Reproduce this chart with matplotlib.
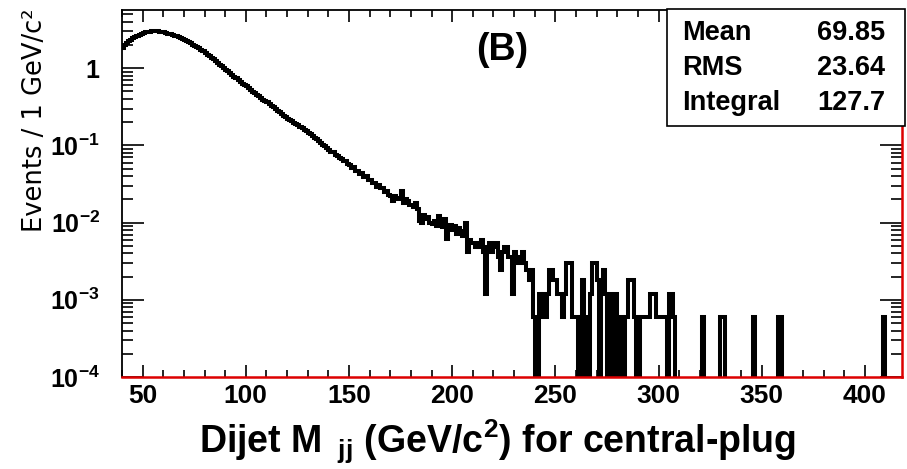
import numpy as np
import matplotlib.pyplot as plt
from matplotlib.patches import Rectangle
from matplotlib.ticker import FixedLocator, FixedFormatter, LogLocator, NullFormatter, MultipleLocator

plt.rcParams['font.family'] = 'Liberation Sans'
plt.rcParams['font.weight'] = 'bold'
plt.rcParams['mathtext.fontset'] = 'custom'
plt.rcParams['mathtext.rm'] = 'Liberation Sans:bold'
plt.rcParams['mathtext.it'] = 'Liberation Sans:bold'
plt.rcParams['mathtext.bf'] = 'Liberation Sans:bold'

# dijet mass histogram, 1 GeV bins from 40 to 418
x_lo, x_hi = 40, 418

smooth_vals = [
    1.85, 1.98, 2.10, 2.22, 2.33, 2.43, 2.53, 2.62, 2.70, 2.78,
    2.85, 2.90, 2.94, 2.97, 2.99, 3.00, 3.00, 2.99, 2.97, 2.94,
    2.90, 2.86, 2.81, 2.76, 2.71, 2.65, 2.59, 2.52, 2.46, 2.39,
    2.32, 2.25, 2.17, 2.10, 2.02, 1.95, 1.87, 1.80, 1.72, 1.65,
    1.57, 1.50, 1.43, 1.36, 1.30, 1.23, 1.17, 1.11, 1.06, 1.00,
    0.95, 0.91, 0.86, 0.82, 0.78, 0.74, 0.70, 0.66, 0.63, 0.60,
    0.58, 0.55, 0.52, 0.495, 0.47, 0.45, 0.43, 0.41, 0.39, 0.375,
    0.36, 0.345, 0.327, 0.312, 0.296, 0.282, 0.268, 0.255, 0.242, 0.230,
    0.221, 0.212, 0.204, 0.196, 0.189, 0.181, 0.174, 0.166, 0.160, 0.152,
    0.145, 0.139, 0.132, 0.126, 0.120, 0.113, 0.108, 0.102, 0.097, 0.092,
    0.088, 0.082, 0.081, 0.075, 0.073, 0.068, 0.067, 0.063, 0.062, 0.057,
    0.056, 0.051, 0.052, 0.047, 0.046, 0.043, 0.044, 0.039, 0.040, 0.036,
    0.036, 0.033, 0.033, 0.029, 0.031, 0.028, 0.028, 0.025, 0.026, 0.023,
    0.022, 0.019, 0.022, 0.020, 0.021, 0.026, 0.018, 0.020, 0.019, 0.017,
    0.017, 0.016, 0.018, 0.015, 0.0105, 0.0098, 0.0125, 0.0112, 0.0118, 0.0100,
    0.0095, 0.0105, 0.0090, 0.0123, 0.0098, 0.0088, 0.0110, 0.0062, 0.0085, 0.0093,
    0.0080, 0.0090, 0.0071, 0.0085, 0.0078, 0.0068, 0.0100, 0.0041, 0.0060, 0.0055,
]

# tail, bins 210..309, as number of weighted events
event_weight = 0.0006
tail_counts = [
    9, 8, 9, 8, 10, 7, 2, 8, 9, 7,
    8, 9, 6, 4, 7, 8, 8, 6, 6, 2,
    7, 6, 5, 5, 7, 5, 4, 3, 4, 1,
    0, 0, 2, 1, 2, 1, 2, 4, 4, 3,
    3, 2, 2, 1, 2, 5, 5, 5, 1, 1,
    1, 0, 1, 3, 0, 1, 0, 2, 5, 5,
    3, 0, 3, 4, 2, 0, 2, 0, 1, 2,
    0, 1, 1, 0, 1, 3, 3, 3, 1, 0,
    0, 1, 1, 1, 1, 1, 2, 2, 2, 1,
    1, 1, 1, 1, 0, 2, 2, 1, 0, 0,
]
# single events further out
lone_bins = [321, 330, 331, 346, 358, 359, 409]

stats_names = ['Mean', 'RMS', 'Integral']
stats_values = ['69.85', '23.64', '127.7']

y_ticks = [1e-4, 1e-3, 1e-2, 1e-1, 1]
y_ticklabels = [r'$10^{-4}$', r'$10^{-3}$', r'$10^{-2}$', r'$10^{-1}$', '1']

# build the histogram
edges = np.arange(x_lo, x_hi + 1)
hist = np.zeros(len(edges) - 1)
hist[:len(smooth_vals)] = smooth_vals
n0 = len(smooth_vals)
hist[n0:n0 + len(tail_counts)] = np.array(tail_counts) * event_weight
for b in lone_bins:
    hist[b - x_lo] = event_weight
draw = np.where(hist > 0, hist, 1e-9)  # empty bins drop off the bottom like ROOT

W, H = 907, 469
fig = plt.figure(figsize=(W / 100, H / 100), dpi=100)
ax = fig.add_axes([122 / W, 1 - 377 / H, 780 / W, 367 / H])

ax.stairs(draw, edges, color='black', linewidth=2.9, baseline=None)

ax.set_yscale('log')
ax.set_xlim(x_lo, x_hi)
ax.set_ylim(1e-4, 5.67)

ax.xaxis.set_major_locator(MultipleLocator(50))
ax.xaxis.set_minor_locator(MultipleLocator(10))
ax.yaxis.set_major_locator(FixedLocator(y_ticks))
ax.yaxis.set_major_formatter(FixedFormatter(y_ticklabels))
ax.yaxis.set_minor_locator(LogLocator(base=10, subs=np.arange(2, 10)))
ax.yaxis.set_minor_formatter(NullFormatter())

ax.tick_params(axis='x', which='major', direction='in', length=8.5, width=1.2,
               top=True, bottom=True, pad=5, labelsize=19)
ax.tick_params(axis='x', which='minor', direction='in', length=5, width=1.2,
               top=True, bottom=True)
ax.tick_params(axis='y', which='major', direction='in', length=16, width=1.2,
               left=True, right=True, pad=16, labelsize=18)
ax.tick_params(axis='y', which='minor', direction='in', length=8, width=1.2,
               left=True, right=True)

for s in ['left', 'top']:
    ax.spines[s].set_linewidth(1.3)
for s in ['bottom', 'right']:
    ax.spines[s].set_color('#dd0000')
    ax.spines[s].set_linewidth(1.8)

# axis titles
fig.text(35 / W, 1 - 9 / H, 'Events / 1 GeV/c²', rotation=90, ha='center', va='top',
         fontsize=18.5, family='DejaVu Sans', weight='normal')
fig.text(497 / W, 1 - 453 / H, r'Dijet M$_{\ \ jj}$ (GeV/c$^{2}$) for central-plug',
         ha='center', va='baseline', fontsize=27)

fig.text(502 / W, 1 - 50 / H, '(B)', ha='center', va='center', fontsize=27)

# stats box
box = Rectangle((667 / W, 1 - 126 / H), (905 - 667) / W, (126 - 9) / H,
                transform=fig.transFigure, facecolor='white', edgecolor='black',
                linewidth=1.2, zorder=5)
fig.add_artist(box)
for i, (name, val) in enumerate(zip(stats_names, stats_values)):
    yy = 1 - (33 + 35 * i) / H
    fig.text(682 / W, yy, name, ha='left', va='center', fontsize=19.5, zorder=6)
    fig.text(885 / W, yy, val, ha='right', va='center', fontsize=19.5, zorder=6)

fig.savefig('out.png', dpi=100)
